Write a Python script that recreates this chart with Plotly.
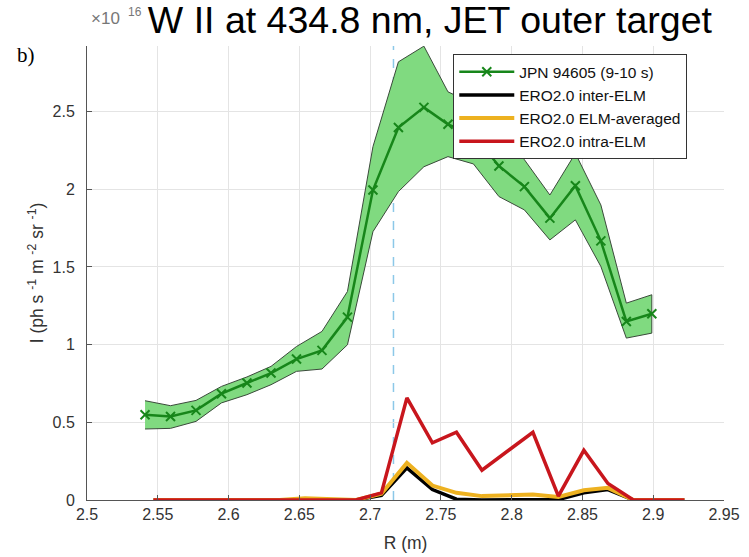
import plotly.graph_objects as go

# ---- data (intensity in units of 1e16 ph s^-1 m^-2 sr^-1) ----
jpn_R = [2.541, 2.559, 2.577, 2.595, 2.613, 2.630, 2.648, 2.666, 2.684, 2.702, 2.720,
         2.738, 2.755, 2.773, 2.791, 2.809, 2.827, 2.845, 2.863, 2.881, 2.899]
jpn_I = [0.549, 0.537, 0.577, 0.684, 0.753, 0.817, 0.907, 0.963, 1.177, 1.995, 2.398,
         2.527, 2.418, 2.35, 2.150, 2.017, 1.814, 2.023, 1.668, 1.149, 1.199]
jpn_upper = [0.639, 0.607, 0.641, 0.731, 0.792, 0.860, 0.988, 1.085, 1.342, 2.274, 2.82,
             2.921, 2.627, 2.55, 2.43, 2.19, 1.963, 2.231, 1.899, 1.267, 1.321]
jpn_lower = [0.457, 0.461, 0.506, 0.625, 0.678, 0.742, 0.828, 0.843, 0.999, 1.727, 1.985,
             2.145, 2.21, 2.163, 1.953, 1.867, 1.674, 1.803, 1.503, 1.042, 1.074]

ero_R = [2.547, 2.565, 2.583, 2.601, 2.618, 2.636, 2.654, 2.672, 2.690, 2.708, 2.726,
         2.744, 2.761, 2.779, 2.797, 2.815, 2.833, 2.851, 2.868, 2.886, 2.904, 2.922]
inter_elm = [0, 0, 0, 0, 0, 0, 0, 0, 0, 0.03, 0.207, 0.067, 0.005, 0, 0, 0, 0.003,
             0.046, 0.067, 0, 0, 0]
elm_avg = [0, 0, 0, 0, 0, 0, 0.012, 0.005, 0, 0.04, 0.239, 0.093, 0.046, 0.025, 0.03,
           0.035, 0.02, 0.063, 0.078, 0, 0, 0]
intra_elm = [0, 0, 0, 0, 0, 0, 0, 0, 0, 0.046, 0.657, 0.368, 0.436, 0.192, 0.314, 0.436,
             0.025, 0.32, 0.106, 0, 0, 0]

strike_R = 2.7165

x_ticks = [2.5, 2.55, 2.6, 2.65, 2.7, 2.75, 2.8, 2.85, 2.9, 2.95]
x_labels = ["2.5", "2.55", "2.6", "2.65", "2.7", "2.75", "2.8", "2.85", "2.9", "2.95"]
y_ticks = [0, 0.5, 1, 1.5, 2, 2.5]
y_labels = ["0", "0.5", "1", "1.5", "2", "2.5"]

FONT = "Liberation Sans, Arial, Helvetica, sans-serif"
TXT = "#333333"

fig = go.Figure()

# uncertainty band
fig.add_trace(go.Scatter(
    x=jpn_R + jpn_R[::-1], y=jpn_upper + jpn_lower[::-1],
    fill="toself", fillcolor="#80DA80", mode="lines",
    line=dict(color="#3a4a3a", width=1), showlegend=False, hoverinfo="skip"))

fig.add_trace(go.Scatter(
    x=jpn_R, y=jpn_I, mode="lines+markers", name="JPN 94605 (9-10 s)",
    line=dict(color="#17861A", width=2.5),
    marker=dict(symbol="x-thin", size=9, line=dict(color="#17861A", width=2))))

fig.add_trace(go.Scatter(x=ero_R, y=inter_elm, mode="lines", name="ERO2.0 inter-ELM",
                         line=dict(color="#000000", width=3.5)))
fig.add_trace(go.Scatter(x=ero_R, y=elm_avg, mode="lines", name="ERO2.0 ELM-averaged",
                         line=dict(color="#EDB120", width=4)))
fig.add_trace(go.Scatter(x=ero_R, y=intra_elm, mode="lines", name="ERO2.0 intra-ELM",
                         line=dict(color="#C8161D", width=3.5)))

fig.add_shape(type="line", xref="x", yref="paper", x0=strike_R, x1=strike_R, y0=0, y1=1,
              line=dict(color="#8CC8E8", width=1.5, dash="dash"), layer="below")

fig.update_layout(
    width=749, height=557,
    margin=dict(l=87, r=25, t=46, b=57),
    paper_bgcolor="white", plot_bgcolor="white",
    font=dict(family=FONT, color=TXT, size=15),
    title=dict(text="W II at 434.8 nm, JET outer target",
               font=dict(family=FONT, size=37.5, color="#000000"),
               xref="container", yref="container", x=0.574, y=0.964,
               xanchor="center", yanchor="middle"),
    legend=dict(x=0.575, y=0.982, xanchor="left", yanchor="top",
                bgcolor="white", bordercolor="#333333", borderwidth=1,
                font=dict(family=FONT, size=15.5, color="#111111"),
                itemwidth=55, tracegroupgap=0),
    xaxis=dict(range=[2.5, 2.95], tickvals=x_ticks, ticktext=x_labels,
               showgrid=True, gridcolor="#E4E4E4", gridwidth=1,
               showline=True, linecolor="#555555", linewidth=1,
               ticks="inside", ticklen=5, tickcolor="#555555",
               zeroline=False, tickfont=dict(size=16, color=TXT), automargin=False,
               title=dict(text="R (m)", font=dict(size=17.5, color=TXT), standoff=14)),
    yaxis=dict(range=[0, 2.922], tickvals=y_ticks, ticktext=y_labels,
               showgrid=True, gridcolor="#E4E4E4", gridwidth=1,
               showline=True, linecolor="#555555", linewidth=1,
               ticks="inside", ticklen=5, tickcolor="#555555",
               zeroline=False, tickfont=dict(size=16, color=TXT),
               ticklabelstandoff=8, automargin=False,
               title=dict(text="I (ph s <sup>-1</sup> m <sup>-2</sup> sr <sup>-1</sup>)",
                          font=dict(size=17.5, color=TXT), standoff=4)),
)

fig.add_annotation(text="×10", xref="paper", yref="paper",
                   x=(89 - 87) / 637, y=(500.5 - 18) / 454.5, xanchor="left", yanchor="middle",
                   showarrow=False, font=dict(family=FONT, size=17, color="#777777"))
fig.add_annotation(text="16", xref="paper", yref="paper",
                   x=(126 - 87) / 637, y=(500.5 - 12) / 454.5, xanchor="left", yanchor="middle",
                   showarrow=False, font=dict(family=FONT, size=12, color="#777777"))
fig.add_annotation(text="b)", xref="paper", yref="paper",
                   x=(15 - 87) / 637, y=(500.5 - 55) / 454.5, xanchor="left", yanchor="middle",
                   showarrow=False, font=dict(family="Liberation Serif, Times New Roman, serif",
                                              size=21, color="#000000"))

fig.write_html("out.html")
